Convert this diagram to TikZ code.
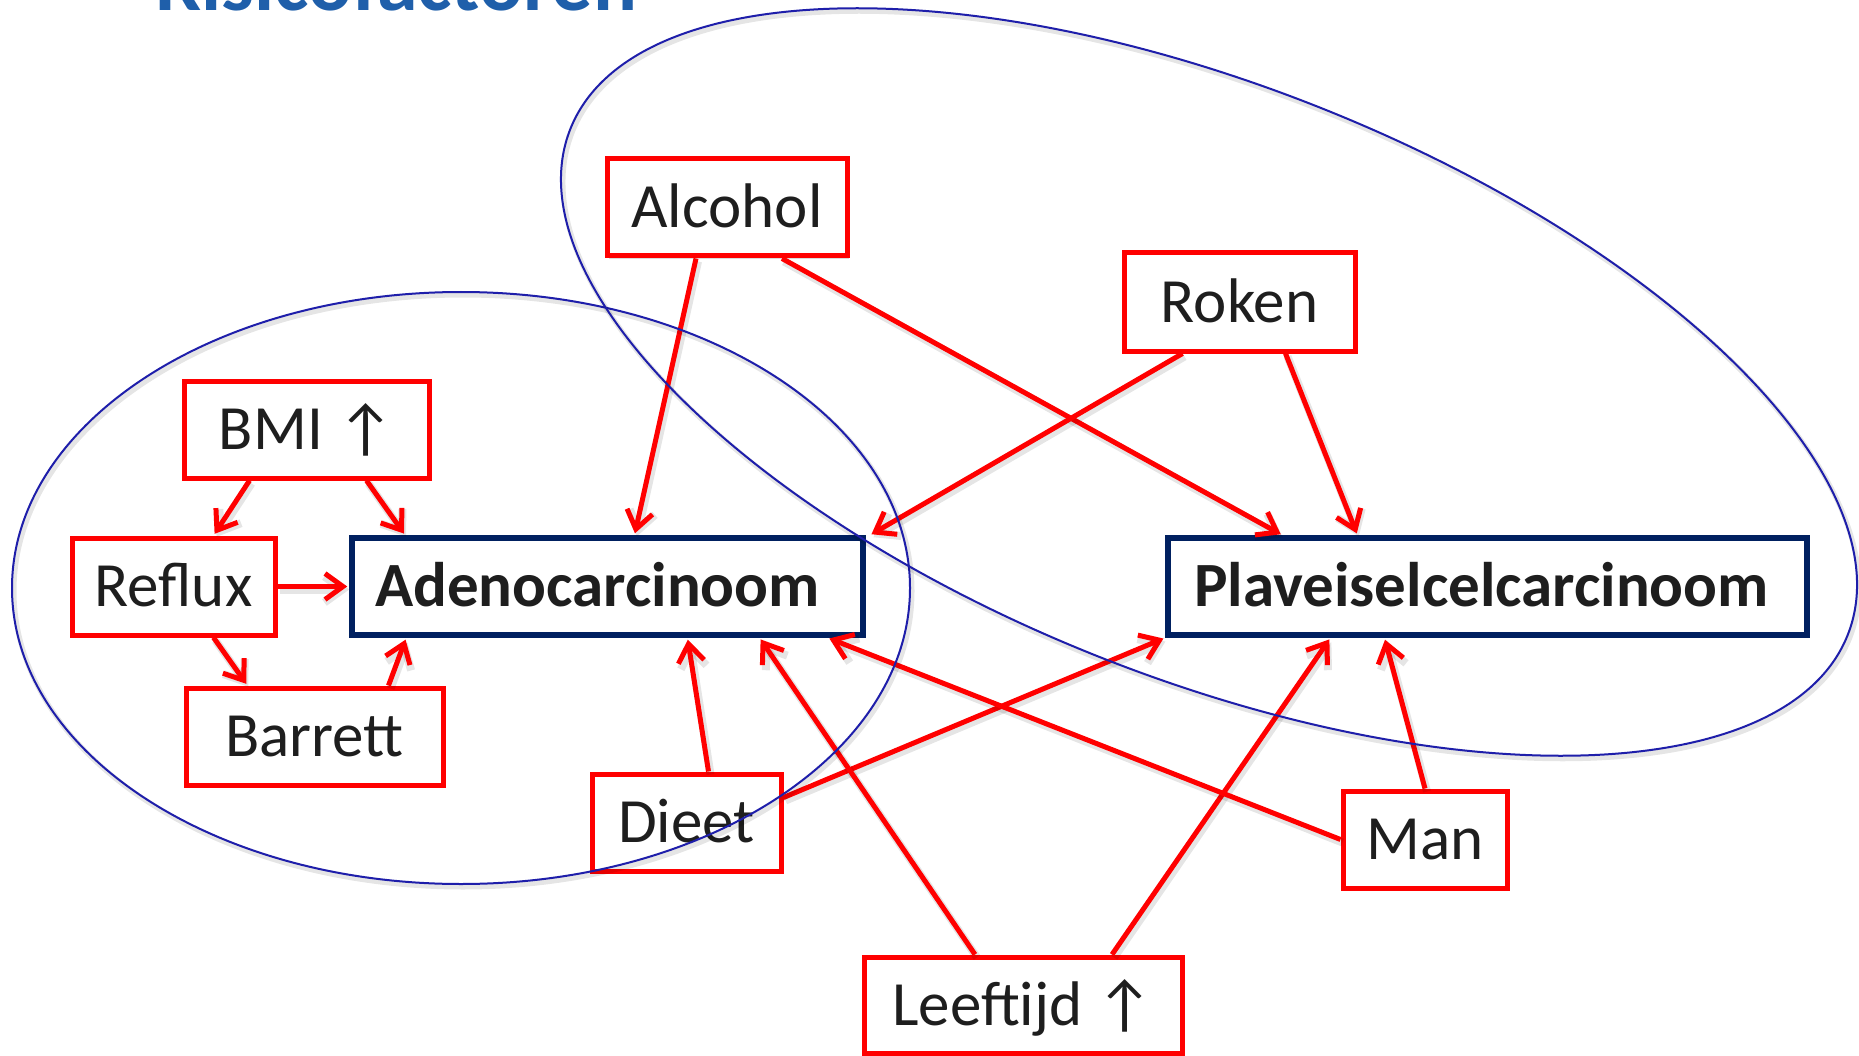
\documentclass[tikz,border=0pt]{standalone}
\usepackage{fontspec}
\setmainfont{Carlito}
\usetikzlibrary{arrows.meta,calc,shadows}
\definecolor{boxred}{RGB}{255,0,0}
\definecolor{navy}{RGB}{0,32,96}
\definecolor{ellblue}{RGB}{30,30,170}
\definecolor{titleblue}{RGB}{31,95,170}
\definecolor{txt}{RGB}{30,30,30}
\begin{document}
\begin{tikzpicture}[x=1pt,y=1pt,
 boxshadow/.style={drop shadow={shadow xshift=2pt, shadow yshift=-3pt, opacity=0.14, fill=black}},
 factor/.style={draw=boxred, line width=5pt, fill=white, inner sep=0pt, text=txt, boxshadow,
   font=\fontsize{63}{70}\selectfont, text height=40.5pt, text depth=0pt},
 disease/.style={draw=navy, line width=5.5pt, fill=white, inner sep=0pt, text=txt, boxshadow,
   font=\bfseries\fontsize{63}{70}\selectfont, text height=40.5pt, text depth=0pt},
 lineshadow/.style={preaction={draw=black, opacity=0.10, line width=#1, transform canvas={shift={(2pt,-3pt)}}}},
 link/.style={draw=boxred, line width=5pt, shorten >=2pt, lineshadow=8pt,
   -{Straight Barb[length=18pt,width=26pt]}},
 group/.style={draw=ellblue, line width=2pt, lineshadow=5pt}]
\useasboundingbox (0,0) rectangle (1859,-1056);
\fill[white] (0,0) rectangle (1859,-1056);
\node[anchor=base west, inner sep=0pt, text=titleblue, font=\bfseries\fontsize{82}{90}\selectfont] (title) at (155,-11) {Risicofactoren};

\node[factor, minimum width=240pt, minimum height=97pt] (alc) at (727,-207.5) {Alcohol};
\node[factor, minimum width=231pt, minimum height=98pt] (rok) at (1239.5,-302) {Roken};
\node[factor, minimum width=245pt, minimum height=97pt] (bmi) at (306.5,-429.5) {BMI ↑};
\node[factor, minimum width=203pt, minimum height=97pt] (ref) at (173.5,-586.5) {Reflux};
\node[disease, minimum width=511pt, minimum height=97pt] (ade) at (607.5,-586.5) {Adenocarcinoom\kern20pt};
\node[disease, minimum width=639pt, minimum height=97pt] (pla) at (1487.5,-586.5) {Plaveiselcelcarcinoom\kern12pt};
\node[factor, minimum width=257pt, minimum height=97pt] (bar) at (314.5,-736.5) {Barrett};
\node[factor, minimum width=189pt, minimum height=97pt] (die) at (686.5,-822.5) {Dieet};
\node[factor, minimum width=164pt, minimum height=97pt] (man) at (1425,-839.5) {Man};
\node[factor, minimum width=318pt, minimum height=96pt] (lee) at (1023,-1005) {Leeftijd ↑};

\draw[link] ([xshift=-31pt]alc.south) -- ([xshift=27pt]ade.north);
\draw[link] ([xshift=55pt]alc.south) -- ([xshift=-205pt]pla.north);
\draw[link] ([xshift=-57pt]rok.south) -- ([xshift=4pt]ade.north east);
\draw[link] ([xshift=46pt]rok.south) -- ([xshift=-130pt]pla.north);
\draw[link] ([xshift=-57pt]bmi.south) -- ([xshift=40pt]ref.north);
\draw[link] ([xshift=60pt]bmi.south) -- ([xshift=56pt]ade.north west);
\draw[link] (ref.east) -- (ade.west);
\draw[link] ([xshift=40pt]ref.south) -- ([xshift=-67pt]bar.north);
\draw[link] ([xshift=74pt]bar.north) -- ([xshift=57pt]ade.south west);
\draw[link] ([xshift=22pt]die.north) -- ([xshift=80pt]ade.south);
\draw[link] ([yshift=-26pt]die.north east) -- (pla.south west);
\draw[link] ([xshift=-48pt]lee.north) -- ([xshift=152pt]ade.south);
\draw[link] ([xshift=89pt]lee.north) -- ([xshift=-157pt]pla.south);
\draw[link] (man.west) -- ([xshift=220pt]ade.south);
\draw[link] (man.north) -- ([xshift=-103pt]pla.south);

\draw[group] (461,-588) ellipse [x radius=449, y radius=296];
\draw[group] (1209,-382) ellipse [x radius=687, y radius=296, rotate=-21.6];
\end{tikzpicture}
\end{document}
